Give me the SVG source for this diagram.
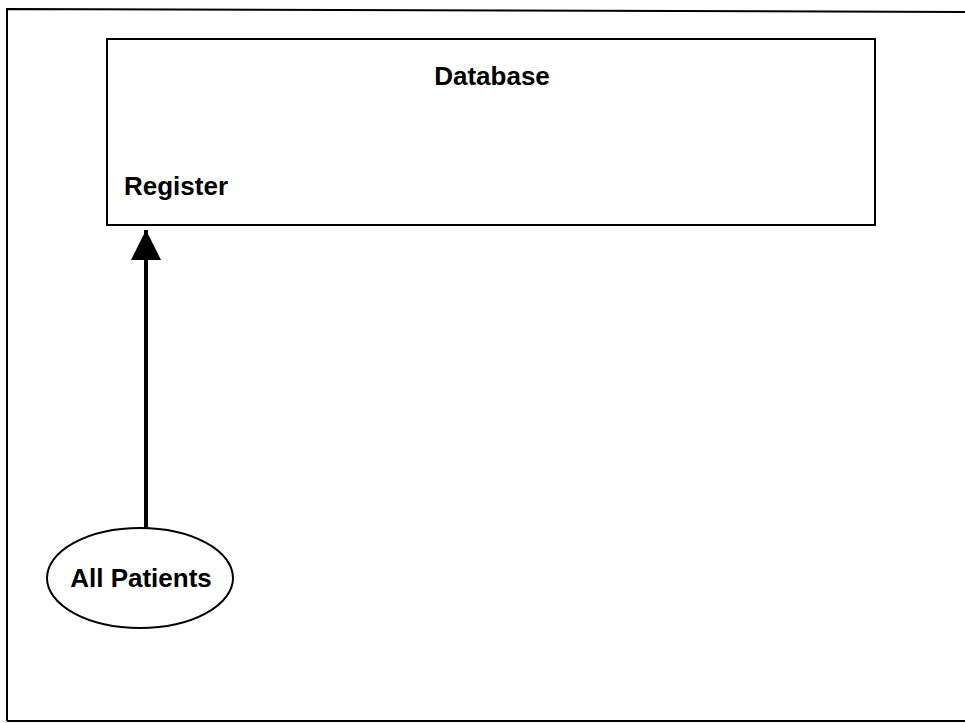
<svg xmlns="http://www.w3.org/2000/svg" width="965" height="723" viewBox="0 0 965 723">
<style>
.line{fill:none;stroke:#000;stroke-width:2}
.lbl{font-family:"Liberation Sans",Arial,sans-serif;font-weight:bold;font-size:26px;fill:#000}
</style>
<defs>
<marker id="ah" markerWidth="31" markerHeight="30" refX="30" refY="15" orient="auto" markerUnits="userSpaceOnUse">
<path d="M0,0 L30,15 L0,30 Z" fill="#000"/>
</marker>
</defs>
<rect width="965" height="723" fill="#fff"/>
<path class="line" d="M7,721 L7,9 L965,12"/>
<line class="line" x1="7" y1="721" x2="965" y2="721" stroke-width="1.5"/>
<g id="database">
<rect class="line" x="107" y="39" width="768" height="186"/>
<text class="lbl" x="492" y="85" text-anchor="middle">Database</text>
<text class="lbl" x="124" y="195">Register</text>
</g>
<g id="all-patients">
<ellipse class="line" cx="140" cy="578" rx="93" ry="50" stroke-width="1.5"/>
<text class="lbl" x="141" y="587" text-anchor="middle">All Patients</text>
</g>
<g id="connectors">
<line x1="146" y1="528" x2="146" y2="230" stroke="#000" stroke-width="4" marker-end="url(#ah)"/>
</g>
</svg>
